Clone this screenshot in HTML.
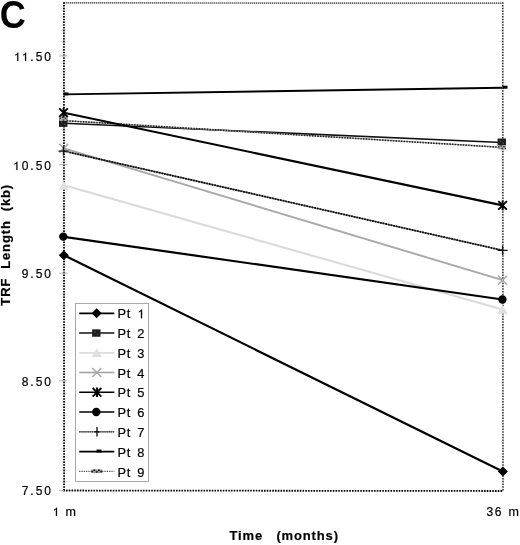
<!DOCTYPE html>
<html><head><meta charset="utf-8">
<style>
html,body{margin:0;padding:0;background:#fff;}
body{width:520px;height:545px;overflow:hidden;position:relative;}
svg{position:absolute;left:0;top:0;will-change:transform;}
text{font-family:"Liberation Sans",sans-serif;fill:#000;stroke:#000;stroke-width:0.2px;}
.one{fill:none;stroke:none;}
</style></head><body>
<svg width="520" height="545" viewBox="0 0 520 545">
<!-- panel letter -->
<text x="-0.4" y="28.2" font-size="39.3" font-weight="bold" transform="scale(0.918,1)" style="stroke-width:0">C</text>
<!-- plot frame -->
<g fill="none">
<line x1="64" y1="2.9" x2="502.8" y2="3.2" stroke="#999" stroke-width="1"/><line x1="64" y1="2.9" x2="502.8" y2="3.2" stroke="#4a4a4a" stroke-width="1.2" stroke-dasharray="1 1"/>
<line x1="63.9" y1="3" x2="64.1" y2="490.5" stroke="#ddd" stroke-width="1"/>
<line x1="502.8" y1="3" x2="503" y2="491" stroke="#ddd" stroke-width="1"/>
<line x1="64" y1="490.5" x2="503" y2="491" stroke="#ddd" stroke-width="1"/>
<line x1="502.8" y1="2.3" x2="503" y2="491" stroke="#333" stroke-width="1.5" stroke-dasharray="1.4 1.35"/>
<line x1="63.9" y1="2.3" x2="64.1" y2="490.5" stroke="#000" stroke-width="1.8" stroke-dasharray="1.5 1.25"/>
<line x1="63.3" y1="490.5" x2="503" y2="491" stroke="#000" stroke-width="1.8" stroke-dasharray="1.5 1.25"/>
</g>
<!-- y ticks -->
<g stroke="#b0b0b0" stroke-width="1">
<line x1="59.3" y1="55.9" x2="67.5" y2="55.9"/>
<line x1="59.3" y1="164.7" x2="67.5" y2="164.7"/>
<line x1="59.3" y1="273.2" x2="67.5" y2="273.2"/>
<line x1="59.3" y1="380.8" x2="67.5" y2="380.8"/>
<line x1="59.3" y1="490.4" x2="64" y2="490.4"/>
</g>
<g font-size="12" text-anchor="end" letter-spacing="2">
<text x="53" y="61"><tspan class="one">1</tspan><tspan class="one">1</tspan>.50</text>
<text x="53" y="170"><tspan class="one">1</tspan>0.50</text>
<text x="53" y="278">9.50</text>
<text x="53" y="385.8">8.50</text>
<text x="53" y="495">7.50</text>
</g>
<g font-size="12" letter-spacing="1.5">
<text x="52.5" y="516"><tspan class="one">1</tspan></text>
<text x="486.5" y="516">36</text>
<text x="65.5" y="516" font-size="12.5">m</text>
<text x="508.6" y="516" font-size="12.5">m</text>
</g>
<text x="284.2" y="540" font-size="13" font-weight="bold" text-anchor="middle" letter-spacing="0.85" style="white-space:pre">Time   (months)</text>
<text transform="translate(10.4,244.8) rotate(-90)" font-size="13" font-weight="bold" text-anchor="middle" letter-spacing="0.875" style="white-space:pre">TRF  Length  (kb)</text>

<!-- series lines -->
<g fill="none">
<!-- Pt3 -->
<line x1="64" y1="185.3" x2="502.6" y2="309.6" stroke="#dadada" stroke-width="2.1"/>
<!-- Pt4 -->
<line x1="64" y1="148.3" x2="502.6" y2="280.2" stroke="#a8a8a8" stroke-width="1.9"/>
<!-- Pt7 -->
<line x1="64" y1="151.1" x2="502.6" y2="250.4" stroke="#666" stroke-width="1.4"/><line x1="64" y1="151.1" x2="502.6" y2="250.4" stroke="#111" stroke-width="1.8" stroke-dasharray="1.8 0.9"/>
<!-- Pt2 -->
<line x1="64" y1="123.3" x2="502" y2="142.5" stroke="#111" stroke-width="1.6"/>
<!-- Pt9 -->
<line x1="64" y1="120.6" x2="502.5" y2="147.4" stroke="#999" stroke-width="1.2"/><line x1="64" y1="120.6" x2="502.5" y2="147.4" stroke="#222" stroke-width="1.6" stroke-dasharray="1.4 1.3"/>
<!-- Pt8 -->
<line x1="64" y1="94.4" x2="502.3" y2="87.8" stroke="#000" stroke-width="1.9"/>
<!-- Pt5 -->
<line x1="64" y1="112.7" x2="502.6" y2="205.4" stroke="#000" stroke-width="2.1"/>
<!-- Pt6 -->
<line x1="64" y1="236.8" x2="502.4" y2="299.5" stroke="#000" stroke-width="2.2"/>
<!-- Pt1 -->
<line x1="64" y1="255.2" x2="502.8" y2="471.6" stroke="#000" stroke-width="2.2"/>
</g>

<defs>
<g id="m1"><path d="M0 -5 L5 0 L0 5 L-5 0 Z" fill="#000"/></g>
<g id="m2"><rect x="-4.2" y="-3.7" width="8.4" height="7.4" fill="#1e1e1e"/><rect x="-2" y="-1.5" width="1.2" height="1.2" fill="#555"/><rect x="1" y="0.5" width="1.2" height="1.2" fill="#555"/></g>
<g id="m3"><path d="M0 -4.8 L5 4.2 L-5 4.2 Z" fill="#e0e0e0"/></g>
<g id="m4"><path d="M-4.5 -4.5 L4.5 4.5 M4.5 -4.5 L-4.5 4.5" stroke="#aaa" stroke-width="1.6"/></g>
<g id="m5"><path d="M-4.3 -4.3 L4.3 4.3 M4.3 -4.3 L-4.3 4.3 M0 -4.8 L0 4.8" stroke="#000" stroke-width="1.9"/></g>
<g id="m6"><circle r="4.2" fill="#000"/></g>
<g id="m7"><path d="M-5 0 L5 0 M0 -4.5 L0 4.5" stroke="#111" stroke-width="1.4"/></g>
<g id="m8"><rect x="0" y="-1.6" width="5" height="3" fill="#000"/></g>
<g id="m9"><rect x="-4" y="-2.2" width="8" height="4.4" fill="#aaa"/><g fill="#222"><rect x="-4" y="-1" width="1.4" height="1.4"/><rect x="-1.6" y="-2.2" width="1.4" height="1.4"/><rect x="-0.7" y="0.6" width="1.4" height="1.4"/><rect x="1.2" y="-1.2" width="1.4" height="1.4"/><rect x="2.8" y="0.6" width="1.2" height="1.2"/></g></g>
<g id="m7L"><path d="M0 -4.7 L0 4.7" stroke="#333" stroke-width="1.6"/><path d="M-2.5 0 L2.5 0" stroke="#111" stroke-width="1.4"/></g>
<g id="m9L"><rect x="-5.5" y="-1.8" width="11" height="3.6" fill="#999"/><g fill="#111"><rect x="-5.5" y="-0.6" width="1.6" height="1.6"/><rect x="-3.2" y="-1.9" width="1.6" height="1.6"/><rect x="-0.9" y="-0.2" width="1.6" height="1.6"/><rect x="1.2" y="-1.9" width="1.6" height="1.6"/><rect x="3.6" y="-0.6" width="1.6" height="1.6"/></g></g>
</defs>
<!-- markers -->
<use href="#m3" x="63.8" y="185.5"/><use href="#m3" x="502.6" y="309.5"/>
<use href="#m4" x="63.8" y="148.2"/><use href="#m4" x="502.6" y="280.2"/>
<use href="#m7" x="63.5" y="151.1"/><use href="#m7" x="502.6" y="250.4"/>
<use href="#m2" x="63.2" y="123.2"/><use href="#m2" x="501.8" y="142.2"/>
<use href="#m9" x="63.5" y="118.8"/><use href="#m9" x="502" y="147.3"/>
<use href="#m8" x="63.5" y="94"/><use href="#m8" x="502.5" y="87.3"/>
<use href="#m5" x="63.5" y="112.7"/><use href="#m5" x="502.6" y="205.4"/>
<use href="#m6" x="63.3" y="236.6"/><use href="#m6" x="502.4" y="299.5"/>
<use href="#m1" x="63.8" y="255.2"/><use href="#m1" x="502.9" y="471.6"/>

<!-- legend -->
<rect x="75.5" y="303.5" width="73" height="178" fill="#fff" stroke="#aaa" stroke-width="1"/>
<g fill="none" stroke-width="1.6">
<line x1="79.2" y1="313.30" x2="114.3" y2="313.30" stroke="#000" stroke-width="1.8"/>
<line x1="79.2" y1="333.05" x2="114.3" y2="333.05" stroke="#111" stroke-width="1.4"/>
<line x1="79.2" y1="352.80" x2="114.3" y2="352.80" stroke="#dcdcdc" stroke-width="1.8"/>
<line x1="79.2" y1="372.55" x2="114.3" y2="372.55" stroke="#a0a0a0" stroke-width="1.6"/>
<line x1="79.2" y1="392.30" x2="114.3" y2="392.30" stroke="#000" stroke-width="1.6"/>
<line x1="79.2" y1="412.05" x2="114.3" y2="412.05" stroke="#000" stroke-width="1.6"/>
<line x1="79.2" y1="431.80" x2="114.3" y2="431.80" stroke="#777" stroke-width="1"/><line x1="79.2" y1="431.80" x2="114.3" y2="431.80" stroke="#222" stroke-width="1.3" stroke-dasharray="1.2 0.9"/>
<line x1="79.2" y1="451.55" x2="114.3" y2="451.55" stroke="#000" stroke-width="1.8"/>
<line x1="79.2" y1="471.30" x2="114.3" y2="471.30" stroke="#444" stroke-width="1.3" stroke-dasharray="1.2 1.1"/>
</g>
<use href="#m1" x="96.6" y="313.20"/>
<use href="#m2" x="96.3" y="333.05"/>
<use href="#m3" x="96.8" y="352.80"/>
<use href="#m4" x="96.8" y="372.55"/>
<use href="#m5" x="97" y="392.30"/>
<use href="#m6" x="96.3" y="412.05"/>
<use href="#m7L" x="97" y="431.80"/>
<use href="#m8" x="96.5" y="451.15"/>
<use href="#m9L" x="96.8" y="471.30"/>
<g font-size="12.8" letter-spacing="0.6">
<text x="117.6" y="318.2">Pt</text><text x="137.3" y="318.2"><tspan class="one">1</tspan></text>
<text x="117.6" y="338.0">Pt</text><text x="137.3" y="338.0">2</text>
<text x="117.6" y="357.8">Pt</text><text x="137.3" y="357.8">3</text>
<text x="117.6" y="377.6">Pt</text><text x="137.3" y="377.6">4</text>
<text x="117.6" y="397.4">Pt</text><text x="137.3" y="397.4">5</text>
<text x="117.6" y="417.2">Pt</text><text x="137.3" y="417.2">6</text>
<text x="117.6" y="437.0">Pt</text><text x="137.3" y="437.0">7</text>
<text x="117.6" y="456.8">Pt</text><text x="137.3" y="456.8">8</text>
<text x="117.6" y="476.6">Pt</text><text x="137.3" y="476.6">9</text>
</g>
<g id="ones"><path d="M583,0 L763,0 L763,1409 L646,1409 Q610,1320 520,1240 Q430,1160 262,1090 L262,930 Q360,965 440,1015 Q520,1065 583,1120 Z" transform="translate(13.83,61.00) scale(0.005859,-0.005859)" fill="#000" stroke="#000" stroke-width="34.1"/><path d="M583,0 L763,0 L763,1409 L646,1409 Q610,1320 520,1240 Q430,1160 262,1090 L262,930 Q360,965 440,1015 Q520,1065 583,1120 Z" transform="translate(21.62,61.00) scale(0.005859,-0.005859)" fill="#000" stroke="#000" stroke-width="34.1"/><path d="M583,0 L763,0 L763,1409 L646,1409 Q610,1320 520,1240 Q430,1160 262,1090 L262,930 Q360,965 440,1015 Q520,1065 583,1120 Z" transform="translate(12.95,170.00) scale(0.005859,-0.005859)" fill="#000" stroke="#000" stroke-width="34.1"/><path d="M583,0 L763,0 L763,1409 L646,1409 Q610,1320 520,1240 Q430,1160 262,1090 L262,930 Q360,965 440,1015 Q520,1065 583,1120 Z" transform="translate(52.50,516.00) scale(0.005859,-0.005859)" fill="#000" stroke="#000" stroke-width="34.1"/><path d="M583,0 L763,0 L763,1409 L646,1409 Q610,1320 520,1240 Q430,1160 262,1090 L262,930 Q360,965 440,1015 Q520,1065 583,1120 Z" transform="translate(137.30,318.20) scale(0.006250,-0.006250)" fill="#000" stroke="#000" stroke-width="32.0"/></g>
</svg>
</body></html>
